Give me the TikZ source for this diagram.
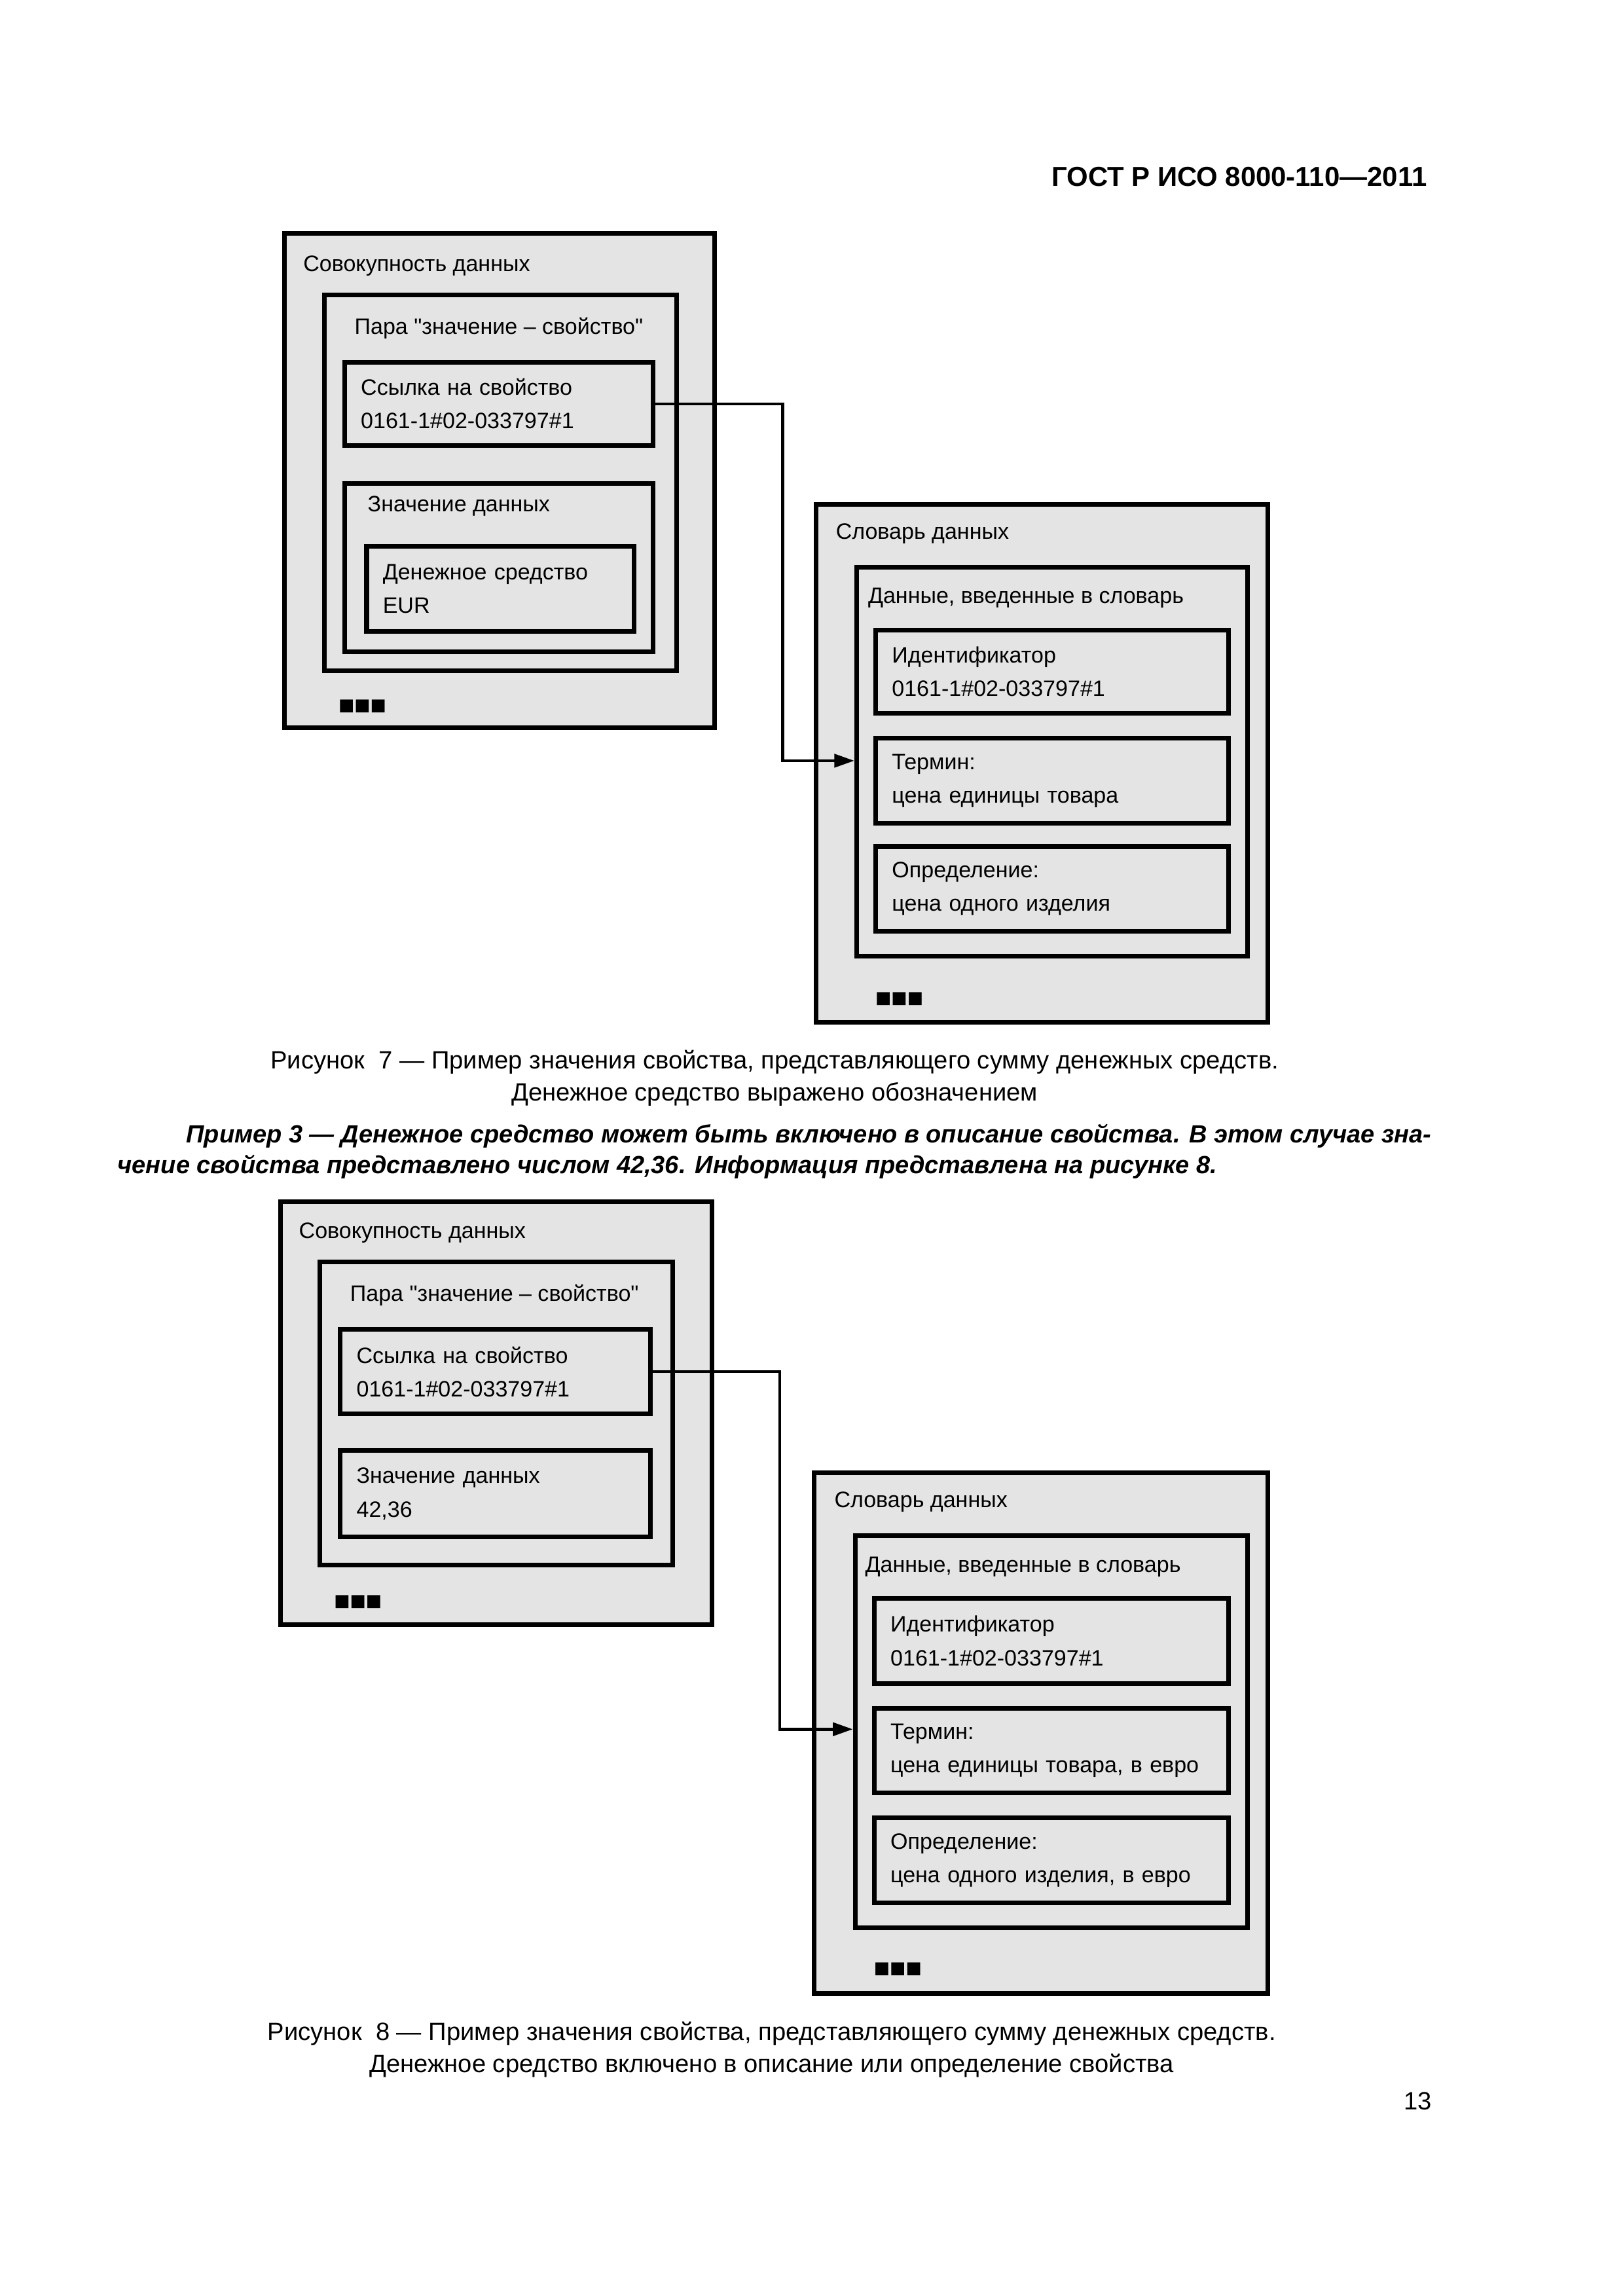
\documentclass[tikz,border=0pt]{standalone}
\usepackage{fontspec}
\setmainfont{Liberation Sans}[Ligatures=TeXOff]
\newfontfamily\symfont{DejaVu Sans}
\usetikzlibrary{arrows.meta}

\begin{document}
\begin{tikzpicture}[x=1mm,y=-1mm]
    \definecolor{boxgray}{RGB}{228,228,228}
    \tikzstyle{outer}=[rectangle,draw,line width=0.6mm,fill=boxgray,anchor=north west,inner sep=0pt]  % container box
    \tikzstyle{cell}=[outer,inner xsep=2.1mm,align=left,font=\fontsize{8.2}{12.3}\selectfont]  % box with two lines of text
    \tikzstyle{tag}=[anchor=base west,inner sep=0pt,font=\fontsize{8.2}{12.3}\selectfont]  % title of a container
    \tikzstyle{more}=[anchor=west,inner sep=0pt,font=\symfont\fontsize{6.2}{8}\selectfont]
    \tikzstyle{capt}=[align=center,inner sep=0pt,font=\fontsize{9.2}{11.8}\selectfont]
    \tikzstyle{wire}=[line width=0.4mm,-{Triangle[length=2.6mm,width=1.7mm]}]

    % page
    \fill[white] (0,0) rectangle (209.89,296.93);
    \useasboundingbox (0,0) rectangle (209.89,296.93);
    \node[anchor=base east,inner sep=0pt,font=\bfseries\fontsize{10.1}{12}\selectfont] (head) at (184.6,24.10) {ГОСТ Р ИСО 8000-110—2011};

    % figure 7, left part
    \node[outer,minimum width=55.62mm,minimum height=63.95mm] (set1) at (36.52,29.89) {};
    \node[tag] (set1t) at (39.16,35.10) {Совокупность данных};
    \node[outer,minimum width=45.60mm,minimum height=48.62mm] (pair1) at (41.62,37.84) {};
    \node[tag] (pair1t) at (45.79,43.23) {Пара "значение – свойство"};
    \node[cell,text width=35.72mm,minimum height=10.78mm] (ref1) at (44.27,46.54) {Ссылка на свойство\\0161-1\#02-033797\#1};
    \node[outer,minimum width=39.92mm,minimum height=21.76mm] (val1) at (44.27,62.25) {};
    \node[tag] (val1t) at (47.49,66.13) {Значение данных};
    \node[cell,text width=30.42mm,minimum height=10.97mm] (cur1) at (47.11,70.38) {Денежное средство\\EUR};
    \node[more] (more1) at (43.71,91.38) {■■■};

    % figure 7, right part
    \node[outer,minimum width=58.46mm,minimum height=66.98mm] (dict1) at (105.20,64.90) {};
    \node[tag] (dict1t) at (108.03,69.72) {Словарь данных};
    \node[outer,minimum width=50.52mm,minimum height=50.33mm] (entry1) at (110.49,73.03) {};
    \node[tag] (entry1t) at (112.20,78.05) {Данные, введенные в словарь};
    \node[cell,text width=41.40mm,minimum height=10.78mm] (id1) at (112.95,81.17) {Идентификатор\\0161-1\#02-033797\#1};
    \node[cell,text width=41.40mm,minimum height=10.97mm] (term1) at (112.95,95.17) {Термин:\\цена единицы товара};
    \node[cell,text width=41.40mm,minimum height=10.97mm] (def1) at (112.95,109.17) {Определение:\\цена одного изделия};
    \node[more] (more2) at (113.14,129.22) {■■■};

    \coordinate (knee1) at (101.22,98.38);
    \draw[wire] (ref1.east) -- (ref1.east -| knee1) |- (entry1.west |- knee1);

    \node[capt] (cap7) at (100.18,139.44) {Рисунок~~7 — Пример значения свойства, представляющего сумму денежных средств.\\Денежное средство выражено обозначением};

    % example text
    \node[anchor=base west,align=left,inner sep=0pt,font=\bfseries\itshape\fontsize{9.15}{11.3}\selectfont] (ex3) at (15.14,151.74)
        {\hspace*{8.89mm}\makebox[161.0mm][s]{Пример 3 — Денежное средство может быть включено в описание свойства. В этом случае зна-}\\чение свойства представлено числом 42,36. Информация представлена на рисунке 8.};

    % figure 8, left part
    \node[outer,minimum width=55.81mm,minimum height=54.68mm] (set2) at (35.95,155.14) {};
    \node[tag] (set2t) at (38.60,160.16) {Совокупность данных};
    \node[outer,minimum width=45.60mm,minimum height=39.16mm] (pair2) at (41.06,162.90) {};
    \node[tag] (pair2t) at (45.22,168.29) {Пара "значение – свойство"};
    \node[cell,text width=35.91mm,minimum height=10.97mm] (ref2) at (43.71,171.60) {Ссылка на свойство\\0161-1\#02-033797\#1};
    \node[cell,text width=35.91mm,minimum height=11.16mm] (val2) at (43.71,187.31) {Значение данных\\42,36};
    \node[more] (more3) at (43.14,207.17) {■■■};

    % figure 8, right part
    \node[outer,minimum width=58.65mm,minimum height=67.36mm] (dict2) at (105.01,190.15) {};
    \node[tag] (dict2t) at (107.84,194.97) {Словарь данных};
    \node[outer,minimum width=50.71mm,minimum height=50.71mm] (entry2) at (110.30,198.28) {};
    \node[tag] (entry2t) at (111.82,203.30) {Данные, введенные в словарь};
    \node[cell,text width=41.59mm,minimum height=10.97mm] (id2) at (112.76,206.42) {Идентификатор\\0161-1\#02-033797\#1};
    \node[cell,text width=41.59mm,minimum height=10.97mm] (term2) at (112.76,220.61) {Термин:\\цена единицы товара, в евро};
    \node[cell,text width=41.59mm,minimum height=10.97mm] (def2) at (112.76,234.80) {Определение:\\цена одного изделия, в евро};
    \node[more] (more4) at (112.95,254.66) {■■■};

    \coordinate (knee2) at (100.84,223.63);
    \draw[wire] (ref2.east) -- (ref2.east -| knee2) |- (entry2.west |- knee2);

    \node[capt] (cap8) at (99.80,265.10) {Рисунок~~8 — Пример значения свойства, представляющего сумму денежных средств.\\Денежное средство включено в описание или определение свойства};

    \node[anchor=base east,inner sep=0pt,font=\fontsize{9.2}{11.8}\selectfont] (page) at (185.2,272.85) {13};
\end{tikzpicture}
\end{document}
